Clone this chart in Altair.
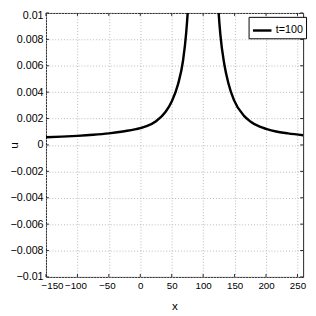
import altair as alt
import pandas as pd

# Curve u(x) at t=100
x_vals = [-150, -125, -100, -75, -50, -25, 0, 10, 25, 40, 50, 60, 68, 73, 76, 78,
          122, 124, 127.5, 133.7, 140, 149, 165, 175, 190, 200, 216, 235, 259]
u_vals = [0.00059, 0.00063, 0.00069, 0.00077, 0.00088, 0.00104, 0.00127, 0.00142,
          0.00180, 0.00250, 0.00330, 0.00460, 0.0064, 0.0085, 0.0105, 0.0125,
          0.0125, 0.0105, 0.0083, 0.0061, 0.0047, 0.0034, 0.0022, 0.00178,
          0.00138, 0.00122, 0.00102, 0.00088, 0.00074]
series_name = "t=100"

x_ticks = [-150, -100, -50, 0, 50, 100, 150, 200, 250]
y_ticks = [-0.01, -0.008, -0.006, -0.004, -0.002, 0, 0.002, 0.004, 0.006, 0.008, 0.01]
x_domain = [-150, 259]
y_domain = [-0.01, 0.01]

W, H = 264, 271

df = pd.DataFrame({"x": x_vals, "u": u_vals, "series": [series_name] * len(x_vals)})
xt = pd.DataFrame({"x": x_ticks})
yt = pd.DataFrame({"u": y_ticks})

FONT = "Liberation Sans, Arial, sans-serif"

xscale = alt.Scale(domain=x_domain, nice=False, zero=False)
yscale = alt.Scale(domain=y_domain, nice=False, zero=False)

xaxis = alt.Axis(values=x_ticks, format="d", title="x", ticks=False, domain=False,
                 labelPadding=4, labelOverlap=False, labelFontSize=10,
                 labelOffset={"condition": [{"test": "datum.value < -120", "value": -5},
                                            {"test": "datum.value < 0", "value": -2}],
                              "value": 0},
                 titleY=33, titleBaseline="alphabetic")
yaxis = alt.Axis(values=y_ticks, format="~r", title="u", ticks=False, domain=False,
                 labelPadding=3, labelOverlap=False, labelFontSize=11,
                 labelOffset=alt.condition("datum.value > 0.009", alt.value(3), alt.value(0)),
                 titleX=-33, titleY=135.5, titleAlign="center", titleBaseline="middle")

X = alt.X("x:Q", scale=xscale, axis=xaxis)
Y = alt.Y("u:Q", scale=yscale, axis=yaxis)

line = alt.Chart(df).mark_line(clip=True, strokeWidth=2.5, interpolate="monotone").encode(
    x=X, y=Y,
    stroke=alt.Stroke("series:N", scale=alt.Scale(range=["black"]),
                      legend=alt.Legend(title=None, orient="none", legendX=208, legendY=4,
                                        symbolType="stroke", symbolSize=361,
                                        symbolStrokeWidth=2.5, strokeColor="black",
                                        fillColor="white", padding=3, labelOffset=3,
                                        labelFontSize=11, labelFont=FONT,
                                        labelColor="black", cornerRadius=0)),
)

tick_style = dict(color="#222", strokeWidth=1)
top_ticks = alt.Chart(xt).mark_rule(**tick_style).encode(x=X, y=alt.value(0), y2=alt.value(3))
bot_ticks = alt.Chart(xt).mark_rule(**tick_style).encode(x=X, y=alt.value(H - 3), y2=alt.value(H))
left_ticks = alt.Chart(yt).mark_rule(**tick_style).encode(y=Y, x=alt.value(0), x2=alt.value(3))
right_ticks = alt.Chart(yt).mark_rule(**tick_style).encode(y=Y, x=alt.value(W - 3), x2=alt.value(W))

chart = alt.layer(line, top_ticks, bot_ticks, left_ticks, right_ticks).properties(
    width=W, height=H,
    autosize=alt.AutoSizeParams(type="none"),
    padding={"left": 39, "top": 1, "right": 5, "bottom": 36},
).configure_view(
    stroke="#222", strokeWidth=1
).configure_axis(
    grid=True, gridColor="#b8b8b8", gridDash=[1, 2], gridWidth=1,
    labelFont=FONT, labelColor="black",
    titleFont=FONT, titleFontSize=12, titleFontWeight="normal", titleColor="black",
)

chart.save("out.html", embed_options={"renderer": "svg", "actions": False})
